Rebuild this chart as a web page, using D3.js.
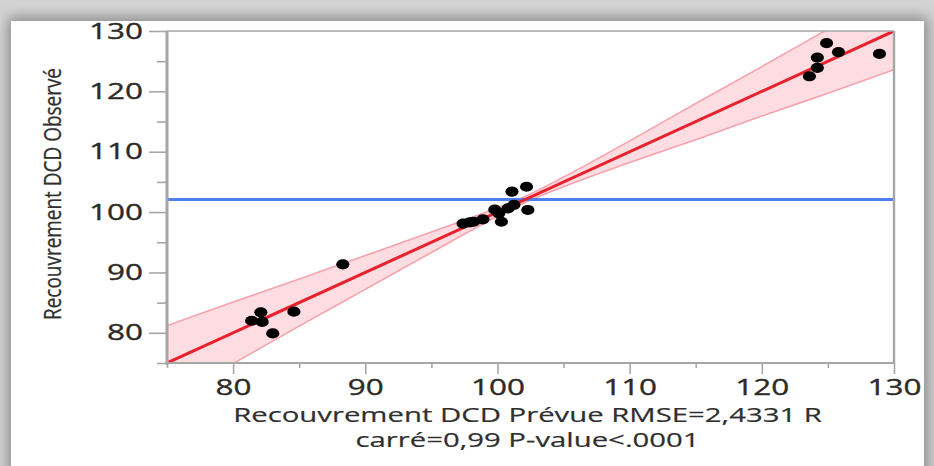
<!DOCTYPE html>
<html>
<head>
<meta charset="utf-8">
<script src="https://cdn.jsdelivr.net/npm/d3@7"></script>
<style>
  html, body { margin: 0; padding: 0; background: #fff; }
  svg { display: block; }
</style>
</head>
<body>
<svg id="chart" width="934" height="466"></svg>
<script>
// Actual-by-predicted data: predicted recovery (x) vs observed recovery (y)
const predicted = [82.1, 81.4, 82.2, 83.0, 84.6, 88.3,
                   97.4, 97.9, 98.2, 98.9, 99.8, 100.1, 100.3, 100.8, 101.25, 101.1, 102.2, 102.3,
                   124.9, 125.8, 124.2, 124.2, 123.6, 128.9];
const observed  = [83.4, 82.0, 81.8, 79.9, 83.5, 91.35,
                   98.1, 98.3, 98.4, 98.8, 100.4, 99.8, 98.4, 100.6, 101.2, 103.4, 104.2, 100.35,
                   128.0, 126.5, 125.6, 123.9, 122.5, 126.2];

// Mean of observed values (horizontal reference line)
const meanObserved = 102.1;

// Fitted line end points
const fitX = [75, 130];
const fitY = [75, 130];

// Confidence band: half-width around the fit at selected predicted values
const bandX         = [75, 80, 85, 90, 95, 100, 102, 105, 110, 115, 120, 125, 130];
const bandHalfWidth = [6.2, 5.1, 3.9, 2.8, 1.7, 0.7, 0.5, 0.8, 1.8, 3.0, 4.1, 5.3, 6.4];

const xTicks = [80, 90, 100, 110, 120, 130];
const yTicks = [80, 90, 100, 110, 120, 130];
const minorTicks = [75, 85, 95, 105, 115, 125];
const xTitleLines = ["Recouvrement DCD Prévue RMSE=2,4331 R", "carré=0,99 P-value<.0001"];
const yTitle = "Recouvrement DCD Observé";

const W = 934, H = 466;
const plot = { left: 167, right: 894, top: 31, bottom: 363 };
const S = 1.43;   // horizontal glyph stretch of the text
const FONT = "'Segoe UI', 'Open Sans', 'Noto Sans', sans-serif";

const svg = d3.select("#chart");
const defs = svg.append("defs");

// page background and card with soft shadow
const shadow = defs.append("filter").attr("id", "cardShadow")
  .attr("x", "-10%").attr("y", "-10%").attr("width", "120%").attr("height", "120%");
shadow.append("feGaussianBlur").attr("stdDeviation", 7);

svg.append("rect").attr("width", W).attr("height", H).attr("fill", "#d4d4d4");
svg.append("rect").attr("x", 8).attr("y", 17).attr("width", 920).attr("height", 480)
  .attr("fill", "#8a8a8a").attr("filter", "url(#cardShadow)");
svg.append("rect").attr("x", 11).attr("y", 21).attr("width", 913).attr("height", 460)
  .attr("fill", "#ffffff");

defs.append("clipPath").attr("id", "plotClip").append("rect")
  .attr("x", plot.left).attr("y", plot.top)
  .attr("width", plot.right - plot.left).attr("height", plot.bottom - plot.top);

const x = d3.scaleLinear().domain([75, 130]).range([plot.left, plot.right]);
const y = d3.scaleLinear().domain([75, 130]).range([plot.bottom, plot.top]);

const band = bandX.map((v, i) => ({ x: v, h: bandHalfWidth[i] }));
const g = svg.append("g").attr("clip-path", "url(#plotClip)");

// confidence band
g.append("path").datum(band)
  .attr("fill", "#fddde1")
  .attr("d", d3.area().curve(d3.curveMonotoneX)
    .x(d => x(d.x)).y0(d => y(d.x - d.h)).y1(d => y(d.x + d.h)));
const edge = sign => d3.line().curve(d3.curveMonotoneX)
  .x(d => x(d.x)).y(d => y(d.x + sign * d.h));
[1, -1].forEach(sgn => {
  g.append("path").datum(band).attr("fill", "none")
    .attr("stroke", "#f6a3ad").attr("stroke-width", 1.6).attr("d", edge(sgn));
});

// mean line
g.append("line")
  .attr("x1", x(75)).attr("x2", x(130))
  .attr("y1", y(meanObserved)).attr("y2", y(meanObserved))
  .attr("stroke", "#4f7ff2").attr("stroke-width", 3);

// fitted line
g.append("path").datum(fitX.map((v, i) => [v, fitY[i]]))
  .attr("fill", "none").attr("stroke", "#e8212d").attr("stroke-width", 3)
  .attr("d", d3.line().x(d => x(d[0])).y(d => y(d[1])));

// observations
g.selectAll("ellipse.pt").data(predicted.map((v, i) => [v, observed[i]]))
  .join("ellipse").attr("class", "pt")
  .attr("cx", d => x(d[0])).attr("cy", d => y(d[1]))
  .attr("rx", 6.6).attr("ry", 5.1).attr("fill", "#000");

// frame
const axisColor = "#a6a6a6";
svg.append("line").attr("x1", plot.left).attr("x2", plot.right).attr("y1", plot.top).attr("y2", plot.top)
  .attr("stroke", axisColor).attr("stroke-width", 1.6);
svg.append("line").attr("x1", plot.right).attr("x2", plot.right).attr("y1", plot.top).attr("y2", plot.bottom)
  .attr("stroke", axisColor).attr("stroke-width", 2.4);

// y axis: major and minor ticks
const yMajor = svg.append("g").attr("transform", `translate(${plot.left},0)`)
  .call(d3.axisLeft(y).tickValues(yTicks).tickSize(18).tickSizeOuter(0).tickPadding(6));
const yMinor = svg.append("g").attr("transform", `translate(${plot.left},0)`)
  .call(d3.axisLeft(y).tickValues(minorTicks).tickSize(10).tickSizeOuter(0).tickFormat(""));
// x axis: major and minor ticks
const xMajor = svg.append("g").attr("transform", `translate(0,${plot.bottom})`)
  .call(d3.axisBottom(x).tickValues(xTicks).tickSize(11).tickSizeOuter(0).tickPadding(6));
const xMinor = svg.append("g").attr("transform", `translate(0,${plot.bottom})`)
  .call(d3.axisBottom(x).tickValues(minorTicks).tickSize(5).tickSizeOuter(0).tickFormat(""));

[yMajor, yMinor, xMajor, xMinor].forEach(a => {
  a.select(".domain").remove();
  a.selectAll(".tick line").attr("stroke", axisColor).attr("stroke-width", 1.6);
});
svg.append("line").attr("x1", plot.left).attr("x2", plot.left).attr("y1", plot.top).attr("y2", plot.bottom + 2)
  .attr("stroke", axisColor).attr("stroke-width", 3);
svg.append("line").attr("x1", plot.left - 1).attr("x2", plot.right + 1).attr("y1", plot.bottom).attr("y2", plot.bottom)
  .attr("stroke", axisColor).attr("stroke-width", 2.2);

const labelColor = "#2e2a26";
yMajor.selectAll(".tick text")
  .attr("font-family", FONT).attr("font-size", 22).attr("fill", labelColor)
  .attr("stroke", labelColor).attr("stroke-width", 0.35)
  .attr("x", -24 / S).attr("transform", `scale(${S},1)`);
xMajor.selectAll(".tick text")
  .attr("font-family", FONT).attr("font-size", 22).attr("fill", labelColor)
  .attr("stroke", labelColor).attr("stroke-width", 0.35)
  .attr("dy", "0.68em")
  .attr("transform", `scale(${S},1)`);

// axis titles
const cx = (plot.left + plot.right) / 2 - 3;
[422, 447].forEach((by, i) => {
  svg.append("text")
    .attr("transform", `translate(${cx},${by}) scale(${S},1)`)
    .attr("text-anchor", "middle")
    .attr("font-family", FONT).attr("font-size", 20.5).attr("fill", "#2f2f2f")
    .attr("stroke", "#2f2f2f").attr("stroke-width", 0.2)
    .text(xTitleLines[i]);
});
svg.append("text")
  .attr("transform", `translate(61,194) scale(${S},1) rotate(-90)`)
  .attr("text-anchor", "middle")
  .attr("font-family", FONT).attr("font-size", 17).attr("fill", "#2f2f2f")
  .attr("stroke", "#2f2f2f").attr("stroke-width", 0.2)
  .attr("textLength", 252).attr("lengthAdjust", "spacingAndGlyphs")
  .text(yTitle);
</script>
</body>
</html>
